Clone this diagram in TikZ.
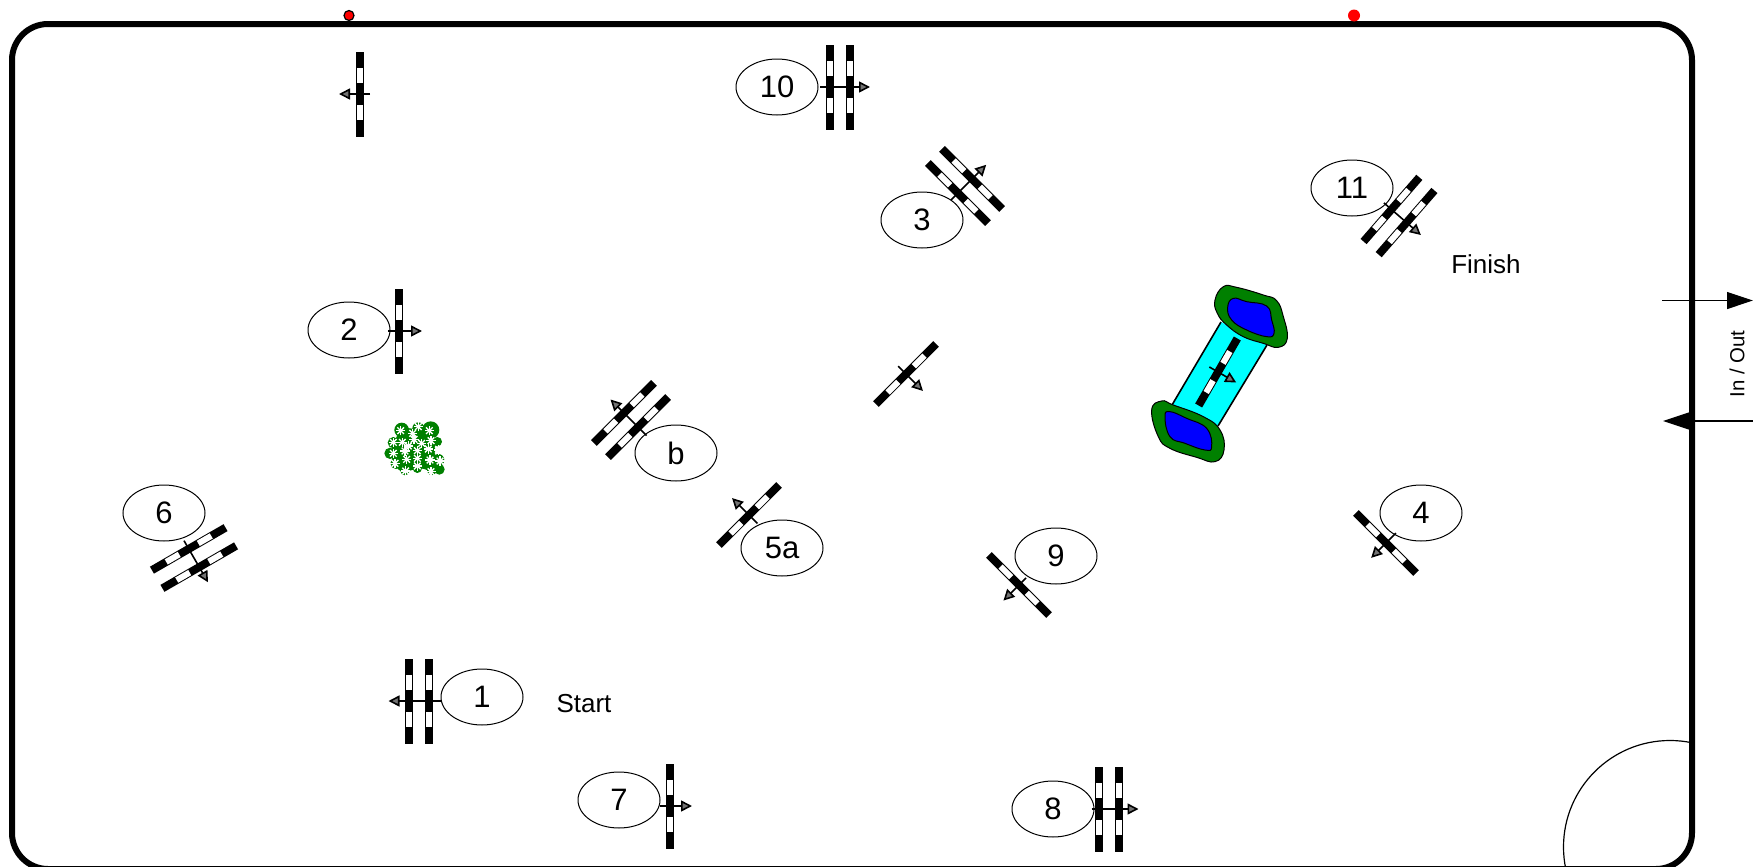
\documentclass[tikz,border=0pt]{standalone}
\usepackage{fontspec}
\setmainfont{Liberation Sans}
\usetikzlibrary{arrows.meta,shapes.geometric}
\definecolor{aquafill}{RGB}{0,255,255}
\definecolor{pondblue}{RGB}{0,0,255}
\definecolor{leaf}{RGB}{0,128,0}
\definecolor{dotred}{RGB}{255,0,0}
\tikzset{
  x=0.5pt,y=-0.5pt,
  tag/.style={draw=black,ellipse,line width=0.5pt,minimum width=41pt,minimum height=28pt,inner sep=0pt,font=\fontsize{15.5}{18}\selectfont,fill=none},
  note/.style={font=\fontsize{13}{15}\selectfont,inner sep=0pt},
  flow/.style={line width=0.8pt,-{Triangle[length=5.5pt,width=5.5pt,fill=black!55]}},
  gate/.style={-{Triangle[length=13pt,width=8.5pt,fill=black]},line width=0.6pt},
  pondouter/.style={fill=leaf,draw=black,line width=0.5pt},
  pondinner/.style={fill=pondblue,draw=black,line width=0.5pt}
}
\newcommand{\hurdle}[8][]{%
  \begin{scope}[shift={(#3,#4)},rotate=#5,#1]
    \foreach \s in {#6}{
      \fill[black] (\s-4,-42.5) rectangle (\s+4,42.5);
      \fill[white] (\s-3,-26) rectangle (\s+3,-11);
      \fill[white] (\s-3,11) rectangle (\s+3,26);
    }
    \coordinate (#2t) at (#7,0);
    \coordinate (#2h) at (#8,0);
  \end{scope}
  \draw[flow] (#2t) -- (#2h);
}
\newcommand{\blossom}[2]{%
  \foreach \r in {0,45,90,135}{
    \draw[white,line width=0.7pt] ({#1+14*cos(\r)},{#2+14*sin(\r)}) -- ({#1-14*cos(\r)},{#2-14*sin(\r)});
  }
}
\begin{document}
\begin{tikzpicture}
\useasboundingbox (0,0) rectangle (1753,867);
\fill[white] (0,0) rectangle (1753,867);
% corner arc
\begin{scope}
  \clip (0,0) rectangle (1692,867);
  \draw[line width=0.6pt] (1670,847) circle[radius=106.5];
\end{scope}
\begin{scope}
  \clip (0,0) rectangle (1753,867);
  \draw[line width=3pt,rounded corners=18pt] (12,24) rectangle (1692,869);
\end{scope}
% red points
\node[circle,fill=dotred,draw=black,line width=0.6pt,minimum size=5pt,inner sep=0pt] (dotA) at (349,15.5) {};
\node[circle,fill=dotred,minimum size=6pt,inner sep=0pt] (dotB) at (1354,15.5) {};
% in / out
\coordinate (inA) at (1662,300.5);
\coordinate (inB) at (1753,300.5);
\coordinate (outA) at (1753,421);
\coordinate (outB) at (1663,421);
\draw[gate] (inA) -- (inB);
\draw[gate] (outA) -- (outB);
\node[rotate=90,font=\fontsize{10.2}{12}\selectfont,inner sep=0pt] (inout) at (1737,364) {In / Out};
% water jump
\fill[aquafill] (1221,322) -- (1267,345) -- (1218,426) -- (1172,405) -- cycle;
\draw[line width=0.8pt] (1221,322) -- (1172,405);
\draw[line width=0.8pt] (1267,345) -- (1218,426);
\begin{scope}[shift={(1130,270)},x=0.16667pt,y=-0.16667pt]
  \draw[pondouter] plot[smooth cycle,tension=0.75] coordinates {(255,90) (280,50) (320,52) (400,75) (440,92) (460,140) (472,205) (445,232) (400,220) (340,200) (290,165) (262,130)};
  \draw[pondinner] plot[smooth cycle,tension=0.75] coordinates {(293,112) (310,85) (350,95) (410,108) (425,150) (432,190) (410,200) (350,180) (305,150)};
  \draw[pondouter] plot[smooth cycle,tension=0.75] coordinates {(65,420) (95,393) (130,405) (220,440) (270,480) (282,540) (255,575) (200,562) (120,535) (85,500)};
  \draw[pondinner] plot[smooth cycle,tension=0.75] coordinates {(105,440) (120,425) (170,445) (230,475) (245,530) (225,540) (165,520) (120,500)};
\end{scope}
% bush
\begin{scope}[shift={(360,400)},x=0.16667pt,y=-0.16667pt]
  \fill[leaf] plot[smooth cycle,tension=0.7] coordinates {(125,85) (150,85) (190,90) (215,80) (225,105) (225,140) (225,165) (235,195) (220,215) (180,205) (130,215) (105,195) (95,165) (100,130) (110,110)};
  \foreach \p/\q/\u in {125/90/22,175/85/18,212/90/26,100/128/17,90/160/17,108/190/17,135/212/14,172/205/14,215/212/14,238/208/16,235/180/18,232/125/14}{
    \fill[leaf] (\p,\q) circle[radius=\u];
  }
  \foreach \p/\q in {122/92,175/80,208/92,158/100,100/127,127/127,213/122,162/118,185/130,145/138,135/153,205/147,172/152,235/150,100/160,105/190,140/178,172/175,210/180,240/183,172/198,137/213,213/215}{
    \blossom{\p}{\q}
  }
\end{scope}
% jumps
\hurdle{j0}{360}{94}{180}{0}{-10}{21}
\hurdle{j10}{840}{87}{0}{-10,10}{-20}{30}
\hurdle{j3}{965}{186}{45}{-10,10}{-20}{30}
\hurdle{j11}{1399}{216}{-41}{-10,10}{-20}{29}
\hurdle{j2}{399}{331}{0}{0}{-11}{23}
\hurdle{jb}{631}{420}{135}{-10,10}{-22}{29}
\hurdle{j5}{749}{515}{135}{0}{-12}{24}
\hurdle{jx}{906}{374}{-45}{0}{-11}{24}
\hurdle[yscale=0.91]{jw}{1218}{372}{-30}{0}{-10}{21}
\hurdle{j4}{1386}{543}{225}{0}{-14}{21}
\hurdle{j9}{1019}{585}{225}{0}{-10}{22}
\hurdle{j6}{194}{558}{-60}{-10.5,10.5}{-20}{28}
\hurdle{j1}{418.5}{701}{180}{-10,10}{-22}{30}
\hurdle{j7}{670}{806}{0}{0}{-10}{22}
\hurdle{j8}{1108.5}{809}{0}{-10,10}{-17}{30}
% labels
\node[tag] (n10) at (777,87) {10};
\node[tag] (n3) at (922,220) {3};
\node[tag] (n11) at (1352,188) {11};
\node[tag] (n2) at (349,330) {2};
\node[tag] (nb) at (676,453) {b};
\node[tag] (n5) at (782,548) {5a};
\node[tag] (n4) at (1421,513) {4};
\node[tag] (n9) at (1056,556) {9};
\node[tag] (n6) at (164,513) {6};
\node[tag] (n1) at (482,697) {1};
\node[tag] (n7) at (619,800) {7};
\node[tag] (n8) at (1053,809) {8};
\node[note] (start) at (584,704) {Start};
\node[note] (finish) at (1486,264) {Finish};
\end{tikzpicture}
\end{document}
